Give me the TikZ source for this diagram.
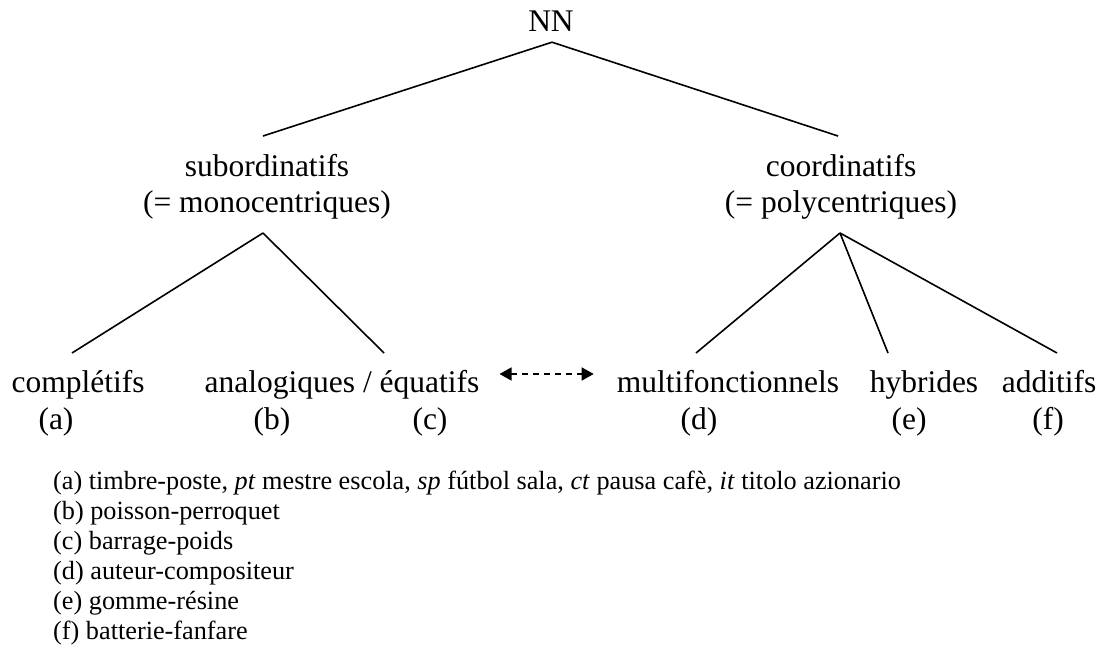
\documentclass[tikz,border=0pt]{standalone}
\usepackage{fontspec}
\setmainfont{Liberation Serif}
\usepackage{tikz}
\usetikzlibrary{arrows.meta}

\begin{document}
\begin{tikzpicture}[x=1pt, y=-1pt,
  lbl/.style={font=\fontsize{31.5}{36.2}\selectfont, inner sep=0pt, anchor=base},
  ex/.style={font=\fontsize{26.25}{30}\selectfont, inner sep=0pt, anchor=base west},
  branch/.style={line width=1.6pt}]
\useasboundingbox (0,0) rectangle (1101,655);

\node [lbl] (nn) at (551,32) {NN};
\node [lbl, align=center] (sub) at (267,213) {subordinatifs\\(= monocentriques)};
\node [lbl, align=center] (coo) at (841,213) {coordinatifs\\(= polycentriques)};

\node [lbl] (compl) at (78,392) {complétifs};
\node [lbl] (anal) at (342,392) {analogiques / équatifs};
\node [lbl] (multi) at (728,392) {multifonctionnels};
\node [lbl] (hyb) at (924,392) {hybrides};
\node [lbl] (add) at (1049,392) {additifs};

\node [lbl] (a) at (56,429) {(a)};
\node [lbl] (b) at (272,429) {(b)};
\node [lbl] (c) at (430,429) {(c)};
\node [lbl] (d) at (699,429) {(d)};
\node [lbl] (e) at (909,429) {(e)};
\node [lbl] (f) at (1048,429) {(f)};

\draw [branch] ([xshift=1pt,yshift=-10pt]nn.south) -- ([xshift=-4pt,yshift=77pt]sub.base);
\draw [branch] ([xshift=1pt,yshift=-10pt]nn.south) -- ([xshift=-3pt,yshift=77pt]coo.base);
\draw [branch] ([xshift=-4pt,yshift=-20pt]sub.base) -- ([xshift=-6pt,yshift=39pt]compl.base);
\draw [branch] ([xshift=-4pt,yshift=-20pt]sub.base) -- ([xshift=42pt,yshift=39pt]anal.base);
\draw [branch] ([xshift=-1pt,yshift=-20pt]coo.base) -- ([xshift=-32pt,yshift=39pt]multi.base);
\draw [branch] ([xshift=-1pt,yshift=-20pt]coo.base) -- ([xshift=-36pt,yshift=39pt]hyb.base);
\draw [branch] ([xshift=-1pt,yshift=-20pt]coo.base) -- ([xshift=8pt,yshift=39pt]add.base);
\draw [line width=1.6pt, dash pattern=on 6pt off 5pt, {Triangle[length=12pt,width=13pt]}-{Triangle[length=12pt,width=13pt]},
  shorten <=20pt, shorten >=23pt] ([yshift=18pt]anal.base east) -- ([yshift=18pt]multi.base west);

\node [ex] (la) at (53,489) {(a) timbre-poste, \textit{pt} mestre escola, \textit{sp} fútbol sala, \textit{ct} pausa cafè, \textit{it} titolo azionario};
\node [ex] (lb) at (53,519) {(b) poisson-perroquet};
\node [ex] (lc) at (53,549) {(c) barrage-poids};
\node [ex] (ld) at (53,579) {(d) auteur-compositeur};
\node [ex] (le) at (53,609) {(e) gomme-résine};
\node [ex] (lf) at (53,639) {(f) batterie-fanfare};
\end{tikzpicture}
\end{document}
